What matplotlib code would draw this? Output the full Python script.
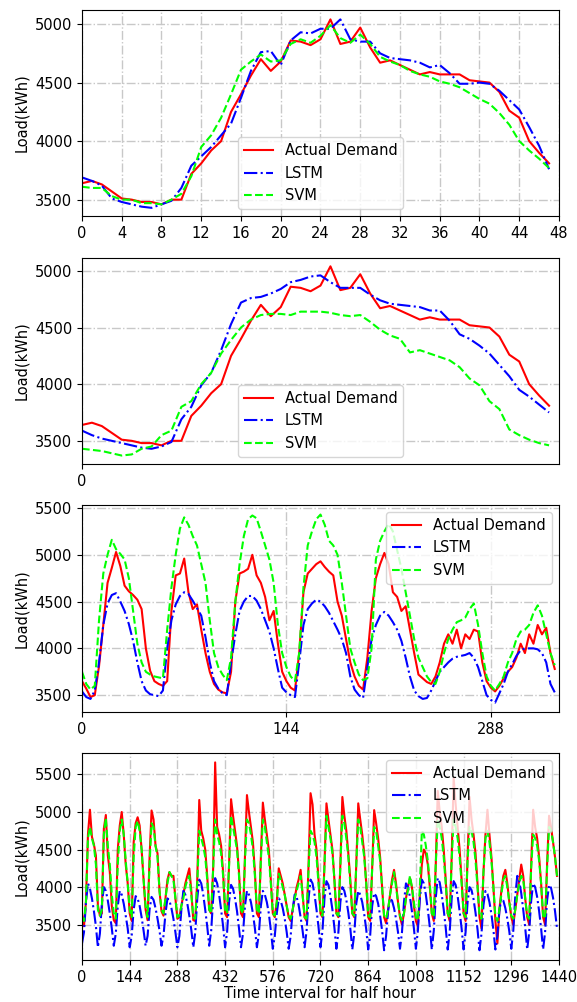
import numpy as np
import matplotlib.pyplot as plt

plt.rcParams['font.size'] = 10.5

# one day at half-hour resolution, one-step-ahead forecasts
day_actual = [3640, 3660, 3630, 3570, 3510, 3500, 3480, 3480, 3460, 3500, 3500, 3720,
              3810, 3920, 4000, 4250, 4400, 4560, 4700, 4600, 4680, 4860, 4850, 4820,
              4870, 5040, 4830, 4850, 4970, 4800, 4670, 4690, 4650, 4610, 4570, 4590,
              4570, 4570, 4570, 4520, 4510, 4500, 4420, 4260, 4200, 4000, 3900, 3810]
day_lstm = [3690, 3660, 3620, 3510, 3480, 3460, 3440, 3430, 3460, 3490, 3600, 3790,
            3870, 3950, 4050, 4150, 4370, 4600, 4760, 4770, 4650, 4860, 4930, 4920,
            4960, 4960, 5040, 4870, 4850, 4850, 4750, 4710, 4700, 4690, 4670, 4630,
            4650, 4580, 4490, 4490, 4500, 4490, 4430, 4350, 4270, 4120, 3960, 3760]
day_svm = [3610, 3600, 3600, 3530, 3500, 3500, 3470, 3470, 3460, 3500, 3550, 3700,
           3950, 4050, 4200, 4400, 4610, 4680, 4740, 4680, 4690, 4830, 4870, 4840,
           4900, 4990, 4880, 4840, 4910, 4830, 4720, 4680, 4650, 4600, 4570, 4550,
           4510, 4490, 4460, 4410, 4360, 4320, 4240, 4140, 4000, 3920, 3850, 3770]

# same day, multi-step forecasts
ms_lstm = [3590, 3550, 3520, 3500, 3480, 3460, 3440, 3430, 3450, 3490, 3690, 3800,
           3990, 4100, 4300, 4530, 4720, 4760, 4770, 4800, 4840, 4900, 4920, 4950,
           4960, 4900, 4850, 4850, 4850, 4790, 4740, 4710, 4700, 4690, 4680, 4650,
           4650, 4560, 4440, 4400, 4340, 4270, 4170, 4070, 3950, 3890, 3820, 3750]
ms_svm = [3430, 3420, 3410, 3390, 3370, 3380, 3430, 3450, 3550, 3590, 3800, 3850,
          4000, 4100, 4270, 4390, 4500, 4570, 4610, 4620, 4620, 4610, 4640, 4640,
          4640, 4630, 4610, 4600, 4610, 4550, 4480, 4430, 4400, 4280, 4300, 4270,
          4240, 4210, 4150, 4050, 3990, 3850, 3780, 3600, 3550, 3510, 3480, 3460]

# one week, every 3rd half-hour interval
week_step = 3
week_actual = [
    3650, 3570, 3480, 3500, 3810, 4250, 4700, 4860, 5030, 4880, 4670, 4610, 4570, 4520, 4420, 4000,
    3760, 3650, 3620, 3600, 3650, 4400, 4780, 4800, 4960, 4600, 4420, 4470, 4200, 3950, 3750, 3620,
    3560, 3530, 3520, 3750, 4500, 4800, 4820, 4850, 5000, 4780, 4700, 4550, 4300, 4400, 4050, 3750,
    3650, 3580, 3550, 3950, 4600, 4800, 4850, 4900, 4930, 4870, 4820, 4780, 4500, 4350, 4100, 3850,
    3700, 3600, 3560, 3900, 4400, 4750, 4900, 5020, 4900, 4600, 4550, 4400, 4450, 4200, 3950, 3720,
    3680, 3640, 3620, 3700, 3850, 4050, 4150, 4050, 4200, 4000, 4150, 4100, 4200, 4180, 3850, 3650,
    3580, 3540, 3600, 3680, 3750, 3800, 3900, 4050, 3950, 4150, 4050, 4250, 4150, 4220, 3950, 3780]
week_lstm = [
    3540, 3480, 3460, 3550, 3850, 4250, 4480, 4570, 4590, 4500, 4400, 4260, 4080, 3850, 3650, 3550,
    3510, 3500, 3490, 3550, 4000, 4300, 4470, 4560, 4600, 4580, 4510, 4430, 4350, 4120, 3850, 3650,
    3570, 3520, 3500, 3850, 4150, 4400, 4500, 4560, 4560, 4510, 4420, 4300, 4180, 4000, 3780, 3580,
    3530, 3500, 3480, 3850, 4250, 4420, 4480, 4520, 4500, 4450, 4380, 4290, 4200, 4100, 3950, 3700,
    3560, 3500, 3470, 3800, 4100, 4250, 4350, 4390, 4350, 4280, 4200, 4080, 3900, 3700, 3550, 3490,
    3460, 3470, 3550, 3650, 3750, 3800, 3850, 3890, 3910, 3920, 3930, 3950, 3900, 3800, 3650, 3500,
    3450, 3420, 3520, 3620, 3750, 3830, 3920, 3980, 4000, 4000, 4000, 3990, 3950, 3850, 3620, 3530]
week_svm = [
    3750, 3620, 3560, 3600, 4300, 4800, 5000, 5160, 5060, 5010, 4950, 4750, 4400, 4050, 3850, 3750,
    3720, 3700, 3690, 3680, 4200, 4650, 5000, 5280, 5400, 5320, 5200, 5100, 4900, 4700, 4300, 3950,
    3800, 3720, 3660, 3900, 4500, 4900, 5200, 5380, 5420, 5390, 5250, 5100, 4950, 4700, 4250, 3950,
    3800, 3700, 3650, 3950, 4650, 5100, 5250, 5380, 5430, 5320, 5150, 5100, 5000, 4700, 4350, 4000,
    3850, 3720, 3660, 3680, 4000, 4950, 5150, 5250, 5330, 5250, 5050, 4850, 4600, 4350, 4100, 3900,
    3800, 3700, 3640, 3620, 3750, 3950, 4100, 4200, 4280, 4300, 4330, 4420, 4480, 4250, 3950, 3700,
    3600, 3550, 3620, 3700, 3850, 3950, 4100, 4180, 4200, 4250, 4380, 4460, 4350, 4150, 3950, 3820]

# thirty days, every 6th half-hour interval
month_step = 6
month_actual = [
    3650, 3480, 3810, 4700, 5030, 4670, 4570, 4420,
    3760, 3620, 3650, 4780, 4960, 4420, 4200, 3750,
    3560, 3520, 4500, 4820, 5000, 4700, 4300, 4050,
    3650, 3550, 4600, 4850, 4930, 4820, 4500, 4100,
    3700, 3560, 4400, 5020, 4900, 4550, 4450, 3950,
    3680, 3620, 3850, 4100, 4200, 4150, 4150, 3850,
    3580, 3600, 3750, 3900, 4050, 4150, 4250, 3950,
    3560, 3550, 4100, 5160, 4750, 4650, 4500, 4150,
    3700, 3650, 4250, 5660, 4800, 4700, 4550, 4200,
    3650, 3600, 4300, 5170, 4950, 4750, 4550, 4200,
    3650, 3600, 4400, 5225, 5000, 4800, 4600, 4200,
    3650, 3600, 4400, 5125, 4900, 4700, 4500, 4100,
    3650, 3600, 3800, 4250, 4150, 4050, 3900, 3750,
    3600, 3550, 3700, 3850, 4000, 4100, 4230, 3900,
    3600, 3550, 4300, 5250, 5100, 4700, 4500, 4100,
    3650, 3600, 4300, 5115, 4900, 4700, 4500, 4100,
    3650, 3600, 4300, 5200, 4950, 4750, 4450, 4100,
    3650, 3600, 4300, 5115, 4900, 4700, 4450, 4050,
    3600, 3550, 4250, 5025, 4850, 4650, 4400, 4000,
    3600, 3520, 3700, 3900, 4100, 4230, 4050, 3800,
    3600, 3500, 3650, 3850, 4000, 4120, 4000, 3750,
    3550, 3480, 3900, 4300, 4500, 4450, 4300, 4000,
    3650, 3550, 4300, 5280, 5000, 4800, 4500, 4100,
    3650, 3550, 4400, 5450, 5100, 4800, 4500, 4100,
    3650, 3550, 4400, 5200, 4900, 4700, 4450, 4050,
    3600, 3450, 4200, 4700, 5030, 4700, 4400, 4000,
    3550, 3250, 3700, 3950, 4150, 4230, 4050, 3800,
    3600, 3500, 3700, 3900, 4100, 4300, 4150, 3850,
    3600, 3500, 4300, 5030, 4800, 4650, 4400, 4050,
    3600, 3500, 4300, 4950, 4800, 4600, 4400, 4150]
month_lstm = [
    3250, 3400, 3800, 4050, 3980, 3850, 3680, 3480,
    3200, 3380, 3780, 4000, 3950, 3820, 3650, 3450,
    3220, 3380, 3750, 3950, 3900, 3780, 3620, 3450,
    3200, 3350, 3700, 3880, 3850, 3750, 3600, 3420,
    3220, 3350, 3700, 3870, 3830, 3720, 3580, 3420,
    3220, 3350, 3650, 3850, 3820, 3720, 3580, 3400,
    3200, 3350, 3700, 3950, 3900, 3780, 3620, 3430,
    3200, 3400, 3850, 4100, 4050, 3900, 3700, 3480,
    3220, 3420, 3850, 4120, 4050, 3900, 3700, 3480,
    3200, 3400, 3800, 4030, 3980, 3850, 3680, 3450,
    3200, 3380, 3750, 3950, 3900, 3800, 3650, 3450,
    3200, 3380, 3750, 3950, 3900, 3800, 3650, 3430,
    3180, 3350, 3650, 3850, 3820, 3720, 3580, 3400,
    3180, 3350, 3700, 3900, 3870, 3760, 3600, 3420,
    3200, 3420, 3850, 4100, 4050, 3900, 3700, 3470,
    3200, 3420, 3850, 4080, 4030, 3880, 3700, 3460,
    3180, 3400, 3800, 4000, 3950, 3830, 3660, 3450,
    3170, 3380, 3780, 3950, 3900, 3800, 3640, 3440,
    3170, 3360, 3750, 3920, 3880, 3780, 3620, 3420,
    3160, 3350, 3680, 3850, 3820, 3720, 3580, 3400,
    3180, 3400, 3800, 4050, 4000, 3870, 3680, 3450,
    3180, 3420, 3850, 4100, 4050, 3900, 3700, 3470,
    3170, 3420, 3860, 4120, 4060, 3900, 3700, 3460,
    3170, 3400, 3850, 4080, 4030, 3880, 3680, 3450,
    3170, 3400, 3800, 4000, 3960, 3840, 3660, 3440,
    3160, 3380, 3760, 3950, 3910, 3800, 3640, 3430,
    3170, 3350, 3680, 3850, 3820, 3720, 3580, 3410,
    3180, 3420, 3880, 4150, 4080, 3920, 3700, 3460,
    3170, 3400, 3820, 4050, 4000, 3870, 3680, 3450,
    3170, 3400, 3820, 4030, 3990, 3860, 3680, 3450]
month_svm = [
    3600, 3550, 3800, 4650, 4800, 4650, 4550, 4300,
    3700, 3620, 3700, 4700, 4920, 4550, 4300, 3900,
    3650, 3580, 4300, 4750, 4900, 4700, 4350, 4050,
    3700, 3600, 4400, 4800, 4880, 4750, 4500, 4100,
    3750, 3600, 4300, 4850, 4800, 4550, 4400, 3950,
    3700, 3650, 3850, 4050, 4200, 4150, 4100, 3850,
    3600, 3620, 3750, 3850, 4000, 4100, 4150, 3900,
    3600, 3580, 4050, 4750, 4650, 4550, 4400, 4100,
    3700, 3650, 4250, 4900, 4700, 4600, 4450, 4150,
    3700, 3650, 4300, 4950, 4800, 4650, 4500, 4150,
    3700, 3650, 4350, 4900, 4850, 4700, 4500, 4150,
    3700, 3650, 4350, 4900, 4800, 4600, 4400, 4050,
    3650, 3620, 3800, 4180, 4100, 4000, 3900, 3750,
    3620, 3580, 3700, 3850, 3950, 4050, 4150, 3900,
    3600, 3580, 4250, 4750, 4700, 4600, 4400, 4050,
    3650, 3620, 4300, 4950, 4800, 4650, 4450, 4100,
    3650, 3620, 4300, 4950, 4850, 4650, 4400, 4050,
    3650, 3620, 4300, 4900, 4800, 4600, 4400, 4050,
    3620, 3600, 4250, 4800, 4750, 4550, 4350, 4000,
    3620, 3580, 3700, 3900, 4050, 4200, 4000, 3800,
    3620, 3560, 3650, 3850, 3950, 4150, 4000, 3800,
    3600, 3560, 4000, 4750, 4700, 4550, 4350, 4050,
    3650, 3600, 4300, 4900, 4800, 4650, 4400, 4050,
    3650, 3600, 4350, 4900, 4800, 4650, 4400, 4050,
    3650, 3600, 4350, 4800, 4750, 4600, 4350, 4000,
    3620, 3580, 4200, 4650, 4750, 4600, 4350, 4000,
    3600, 3550, 3700, 3900, 4100, 4150, 4000, 3800,
    3620, 3580, 3700, 3900, 4050, 4150, 4100, 3850,
    3620, 3580, 4250, 4700, 4650, 4550, 4350, 4050,
    3620, 3580, 4250, 4800, 4750, 4600, 4400, 4150]


def draw(ax, x, actual, lstm, svm, loc):
    ax.plot(x, actual, '-', color='red', label='Actual Demand')
    ax.plot(x, lstm, '-.', color='blue', label='LSTM')
    ax.plot(x, svm, '--', color='lime', label='SVM')
    ax.grid(True, linestyle='-.', color='#c8c8c8', linewidth=1)
    ax.set_ylabel('Load(kWh)')
    ax.legend(loc=loc)


fig = plt.figure(figsize=(5.77, 10.02), dpi=100)
ax1 = fig.add_axes([0.1421, 0.7844, 0.8267, 0.2056])
ax2 = fig.add_axes([0.1421, 0.5371, 0.8267, 0.2056])
ax3 = fig.add_axes([0.1421, 0.2894, 0.8267, 0.2066])
ax4 = fig.add_axes([0.1421, 0.0419, 0.8267, 0.2066])

xd = np.arange(len(day_actual))
draw(ax1, xd, day_actual, day_lstm, day_svm, 'lower center')
ax1.set_xlim(0, 48)
ax1.set_xticks(range(0, 49, 4))
ax1.set_ylim(3360, 5120)
ax1.set_yticks([3500, 4000, 4500, 5000])

draw(ax2, xd, day_actual, ms_lstm, ms_svm, 'lower center')
ax2.set_xlim(0, 48)
ax2.set_xticks(range(0, 48, 144))
ax2.set_ylim(3297, 5115)
ax2.set_yticks([3500, 4000, 4500, 5000])

xw = np.arange(len(week_actual)) * week_step
draw(ax3, xw, week_actual, week_lstm, week_svm, 'upper right')
ax3.set_xlim(0, 336)
ax3.set_xticks(range(0, 336, 144))
ax3.set_ylim(3320, 5532)
ax3.set_yticks([3500, 4000, 4500, 5000, 5500])

xm = np.arange(len(month_actual)) * month_step
draw(ax4, xm, month_actual, month_lstm, month_svm, 'upper right')
ax4.set_xlim(0, 1440)
ax4.set_xticks(range(0, 1441, 144))
ax4.set_ylim(3030, 5785)
ax4.set_yticks([3500, 4000, 4500, 5000, 5500])
ax4.set_xlabel('Time interval for half hour', labelpad=1)

fig.savefig('out.png', dpi=100)
